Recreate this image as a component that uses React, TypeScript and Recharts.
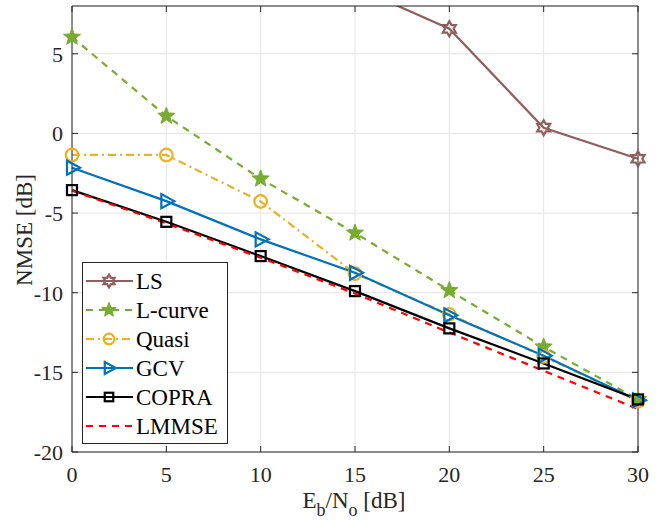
import React from "react";
import { LineChart, Line, XAxis, YAxis, CartesianGrid } from "recharts";

// values
const snr = [0, 5, 10, 15, 20, 25, 30];
const ls = [24.5, 19.5, 14.2, 9.2, 6.57, 0.36, -1.59];
const lcurve = [6.05, 1.09, -2.85, -6.25, -9.86, -13.4, -16.7];
const quasi = [-1.35, -1.35, -4.27, -8.8, -11.36, -14.0, -16.8];
const gcv = [-2.15, -4.25, -6.65, -8.75, -11.42, -13.95, -16.75];
const copra = [-3.56, -5.55, -7.7, -9.9, -12.24, -14.44, -16.7];
const lmmse = [-3.6, -5.65, -7.8, -10.05, -12.5, -14.9, -17.3];

const xTicks = [0, 5, 10, 15, 20, 25, 30];
const yTicks = [-20, -15, -10, -5, 0, 5];

const data = snr.map((s, i) => ({
  snr: s,
  ls: ls[i],
  lcurve: lcurve[i],
  quasi: quasi[i],
  gcv: gcv[i],
  copra: copra[i],
  lmmse: lmmse[i],
}));

const FONT = "'Liberation Serif', 'Times New Roman', serif";
const AXIS = "#262626";
const LW = 2.2;

type MarkerKind = "hexagram" | "pentagram" | "circle" | "triangle" | "square" | "none";

const series: { key: string; name: string; color: string; dash?: string; marker: MarkerKind }[] = [
  { key: "ls", name: "LS", color: "#915E5E", marker: "hexagram" },
  { key: "lcurve", name: "L-curve", color: "#77AC30", dash: "7 6", marker: "pentagram" },
  { key: "quasi", name: "Quasi", color: "#EDB120", dash: "8 4 2 4", marker: "circle" },
  { key: "gcv", name: "GCV", color: "#0072BD", marker: "triangle" },
  { key: "copra", name: "COPRA", color: "#000000", marker: "square" },
  { key: "lmmse", name: "LMMSE", color: "#FF0000", dash: "7 6", marker: "none" },
];

function starPoints(cx: number, cy: number, n: number, R: number, r: number) {
  const pts: string[] = [];
  for (let k = 0; k < n * 2; k++) {
    const rad = k % 2 === 0 ? R : r;
    const a = -Math.PI / 2 + (k * Math.PI) / n;
    pts.push(`${cx + rad * Math.cos(a)},${cy + rad * Math.sin(a)}`);
  }
  return pts.join(" ");
}

function Marker({ kind, cx, cy, color, s = 1 }: { kind: MarkerKind; cx: number; cy: number; color: string; s?: number }) {
  if (cx == null || cy == null || kind === "none") return null;
  switch (kind) {
    case "hexagram":
      return <polygon points={starPoints(cx, cy, 6, 7.5 * s, 4.3 * s)} fill="none" stroke={color} strokeWidth={LW} />;
    case "pentagram":
      return <polygon points={starPoints(cx, cy, 5, 9 * s, 3.8 * s)} fill={color} stroke={color} strokeWidth={1} />;
    case "circle":
      return <circle cx={cx} cy={cy} r={6.3 * s} fill="none" stroke={color} strokeWidth={LW} />;
    case "triangle":
      return (
        <polygon
          points={`${cx + 8 * s},${cy} ${cx - 5 * s},${cy - 7 * s} ${cx - 5 * s},${cy + 7 * s}`}
          fill="none"
          stroke={color}
          strokeWidth={LW}
        />
      );
    case "square":
      return (
        <rect x={cx - 5 * s} y={cy - 5 * s} width={10 * s} height={10 * s} fill="none" stroke={color} strokeWidth={LW} />
      );
  }
  return null;
}

const BottomTick = (p: any) => (
  <g>
    <line x1={p.x} x2={p.x} y1={p.y} y2={p.y - 6} stroke={AXIS} />
    <text x={p.x} y={p.y + 30} textAnchor="middle" fontFamily={FONT} fontSize={22} fill={AXIS}>
      {p.payload.value}
    </text>
  </g>
);
const TopTick = (p: any) => <line x1={p.x} x2={p.x} y1={p.y} y2={p.y + 6} stroke={AXIS} />;
const LeftTick = (p: any) => (
  <g>
    <line x1={p.x} x2={p.x + 6} y1={p.y} y2={p.y} stroke={AXIS} />
    <text x={p.x - 9} y={p.y + 8} textAnchor="end" fontFamily={FONT} fontSize={22} fill={AXIS}>
      {p.payload.value}
    </text>
  </g>
);
const RightTick = (p: any) => <line x1={p.x} x2={p.x - 6} y1={p.y} y2={p.y} stroke={AXIS} />;

function LegendBox() {
  return (
    <svg width={146} height={182} style={{ position: "absolute", left: 82, top: 262 }}>
      <rect x={0.5} y={0.5} width={145} height={181} fill="#fff" stroke={AXIS} strokeWidth={1} />
      {series.map((s, i) => {
        const y = 19 + i * 29;
        return (
          <g key={s.key}>
            <line x1={4} x2={51} y1={y} y2={y} stroke={s.color} strokeWidth={LW} strokeDasharray={s.dash} />
            <Marker kind={s.marker} cx={27} cy={y} color={s.color} s={0.85} />
            <text x={54} y={y + 8} fontFamily={FONT} fontSize={23} fill="#000">
              {s.name}
            </text>
          </g>
        );
      })}
    </svg>
  );
}

export default function App() {
  return (
    <div style={{ position: "absolute", left: 0, top: 0, width: 669, height: 521, background: "#fff" }}>
      <LineChart width={669} height={521} data={data} margin={{ top: 0, right: 0, bottom: 0, left: 0 }}>
        <CartesianGrid stroke="#E4E4E4" strokeWidth={1} />
        <XAxis
          dataKey="snr"
          type="number"
          domain={[0, 30]}
          ticks={xTicks}
          height={69}
          tickSize={0}
          tickMargin={0}
          tickLine={false}
          axisLine={{ stroke: AXIS }}
          tick={BottomTick}
          label={{
            content: () => (
              <text x={354} y={508} textAnchor="middle" fontFamily={FONT} fontSize={23} fill={AXIS}>
                <tspan>E</tspan>
                <tspan dy={8} fontSize={18}>b</tspan>
                <tspan dy={-8}>/N</tspan>
                <tspan dy={8} fontSize={18}>o</tspan>
                <tspan dy={-8}>{" [dB]"}</tspan>
              </text>
            ),
          }}
        />
        <XAxis
          xAxisId="top"
          orientation="top"
          dataKey="snr"
          type="number"
          domain={[0, 30]}
          ticks={xTicks}
          height={6}
          tickSize={0}
          tickMargin={0}
          tickLine={false}
          axisLine={{ stroke: AXIS }}
          tick={TopTick}
        />
        <YAxis
          type="number"
          domain={[-20, 8]}
          ticks={yTicks}
          allowDataOverflow
          width={72}
          tickSize={0}
          tickMargin={0}
          tickLine={false}
          axisLine={{ stroke: AXIS }}
          tick={LeftTick}
          label={{
            content: () => (
              <text
                transform="translate(32,230) rotate(-90)"
                textAnchor="middle"
                fontFamily={FONT}
                fontSize={23}
                fill={AXIS}
              >
                NMSE [dB]
              </text>
            ),
          }}
        />
        <YAxis
          yAxisId="right"
          orientation="right"
          type="number"
          domain={[-20, 8]}
          ticks={yTicks}
          allowDataOverflow
          width={31}
          tickSize={0}
          tickMargin={0}
          tickLine={false}
          axisLine={{ stroke: AXIS }}
          tick={RightTick}
        />
        {series.map((s) => (
          <Line
            key={s.key}
            dataKey={s.key}
            stroke={s.color}
            strokeWidth={LW}
            strokeDasharray={s.dash}
            isAnimationActive={false}
            activeDot={false}
            dot={(p: any) => <Marker key={`${s.key}-${p.index}`} kind={s.marker} cx={p.cx} cy={p.cy} color={s.color} />}
          />
        ))}
      </LineChart>
      <LegendBox />
    </div>
  );
}
